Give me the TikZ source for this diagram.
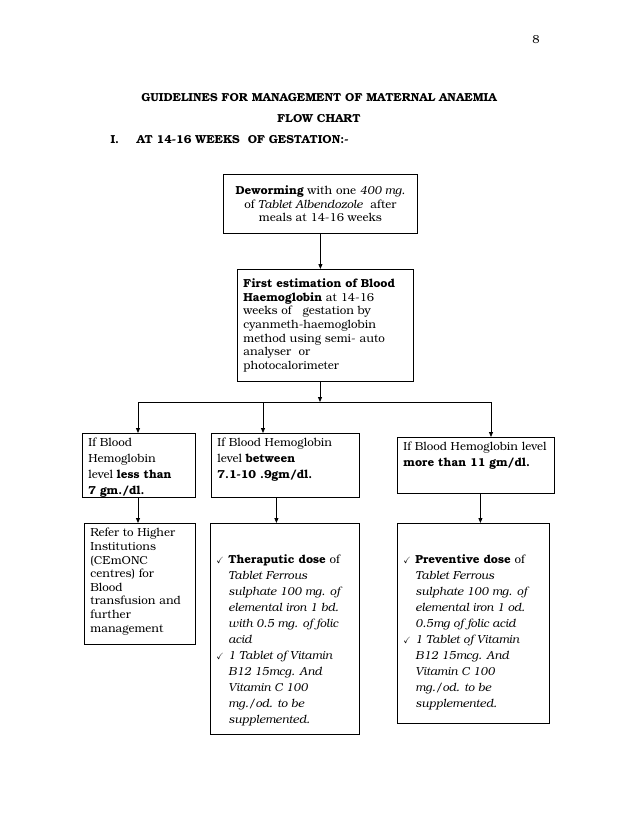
\documentclass[tikz,border=0pt]{standalone}
\usepackage{fontspec}
\setmainfont{TeX Gyre Bonum}
\usepackage{amssymb}
\usetikzlibrary{arrows.meta}
\newcommand{\cell}[4]{\parbox[c][#2pt][#3]{#1pt}{#4}}
\newcommand{\tick}{\par\hangindent=12pt\hangafter=1\noindent\makebox[12pt][l]{\small$\checkmark$}}
\begin{document}
\begin{tikzpicture}[x=1pt, y=-1pt, font=\fontsize{11.6}{13.6}\selectfont,
  box/.style = {draw, anchor=north west, inner xsep=6pt, inner ysep=5pt, line width=0.8pt},
  arr/.style = {-{Triangle[length=5pt,width=4pt]}, line width=0.8pt},
  head/.style = {anchor=base, font=\fontsize{11.6}{13.6}\selectfont\bfseries}]
\useasboundingbox (0,0) rectangle (638,826);

% headings
\node[anchor=base] (page) at (536,44) {8};
\node[head] (title) at (319,102) {GUIDELINES FOR MANAGEMENT OF MATERNAL ANAEMIA};
\node[head] (chart) at (319,123) {FLOW CHART};
\node[head, anchor=base west] (num) at (107,144) {I.};
\node[head, anchor=base west] (stage) at (133,144) {AT 14-16 WEEKS\ \ OF GESTATION:-};

% boxes
\node[box] (deworm) at (223,174) {\cell{182}{49}{c}{\centering
  \textbf{Deworming} with one \textit{400 mg.}\\ of \textit{Tablet Albendozole}\ \ after\\ meals at 14-16 weeks}};
\node[box] (estim) at (237,269) {\cell{164}{102}{c}{\raggedright
  \textbf{First estimation of Blood}\\ \textbf{Haemoglobin} at 14-16\\ weeks of\ \ \ gestation by\\
  cyanmeth-haemoglobin\\ method using semi- auto\\ analyser\ \ or\\ photocalorimeter}};
\node[box] (low) at (82,433) {\cell{101}{54}{t}{\raggedright\baselineskip=16pt
  If Blood\\ Hemoglobin\\ level \textbf{less than}\\ \textbf{7 gm./dl.}}};
\node[box] (mid) at (211,433) {\cell{136}{54}{t}{\raggedright\baselineskip=16pt
  If Blood Hemoglobin\\ level \textbf{between}\\ \textbf{7.1-10 .9gm/dl.}}};
\node[box] (high) at (397,437) {\cell{145}{46}{t}{\raggedright\baselineskip=16pt
  If Blood Hemoglobin level\\ \textbf{more than 11 gm/dl.}}};
\node[box] (refer) at (84,523) {\cell{99}{111}{t}{\raggedright
  Refer to Higher\\ Institutions\\ (CEmONC\\ centres) for\\ Blood\\ transfusion and\\ further\\ management}};
\node[box] (thera) at (210,523) {\cell{137}{201}{t}{\baselineskip=16pt\vspace*{26pt}
  \tick\textbf{Theraputic dose} of\\ \textit{Tablet Ferrous}\\ \textit{sulphate 100 mg. of}\\
  \textit{elemental iron 1 bd.}\\ \textit{with 0.5 mg. of folic}\\ \textit{acid}
  \tick\textit{1 Tablet of Vitamin}\\ \textit{B12 15mcg. And}\\ \textit{Vitamin C 100}\\
  \textit{mg./od. to be}\\ \textit{supplemented.}\par}};
\node[box] (prev) at (397,523) {\cell{140}{190}{t}{\baselineskip=16pt\vspace*{26pt}
  \tick\textbf{Preventive dose} of\\ \textit{Tablet Ferrous}\\ \textit{sulphate 100 mg. of}\\
  \textit{elemental iron 1 od.}\\ \textit{0.5mg of folic acid}
  \tick\textit{1 Tablet of Vitamin}\\ \textit{B12 15mcg. And}\\ \textit{Vitamin C 100}\\
  \textit{mg./od. to be}\\ \textit{supplemented.}\par}};

% branch points
\coordinate (split) at (320,402);
\coordinate (left) at (138,402);
\coordinate (centre) at (263,402);
\coordinate (right) at (491,402);

% connectors
\draw[arr] (deworm) -- (deworm |- estim.north);
\draw[arr] (estim.south -| split) -- (split);
\draw[line width=0.8pt] (left) -- (right);
\draw[arr] (left) -- (left |- low.north);
\draw[arr] (centre) -- (centre |- mid.north);
\draw[arr] (right) -- (right |- high.north);
\draw[arr] (low.south -| left) -- (left |- refer.north);
\draw[arr] ([xshift=-9pt]mid.south) -- ([xshift=-9pt]mid.south |- thera.north);
\draw[arr] ([xshift=4.5pt]high.south) -- ([xshift=4.5pt]high.south |- prev.north);
\end{tikzpicture}
\end{document}
